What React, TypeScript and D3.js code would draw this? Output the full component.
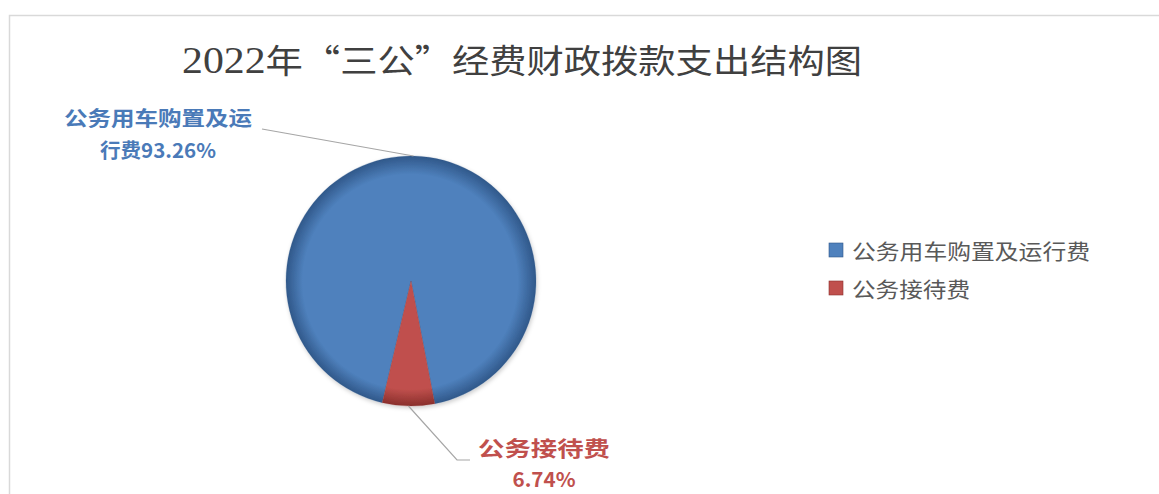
import React from 'react';
import * as d3 from 'd3';

// chart data
const categories = ['公务用车购置及运行费', '公务接待费'];
const shares = [93.26, 6.74];
const sliceColors = ['#4f81bd', '#c0504d'];
const rimColors = ['#30588a', '#8a2f2c'];
const labelColors = ['#4a7ab8', '#c0504d'];
const labelLines = [
  ['公务用车购置及运', '行费93.26%'],
  ['公务接待费', '6.74%'],
];
const titleYear = '2022';
const titleRest = '年“三公”经费财政拨款支出结构图';

const W = 1159;
const H = 494;
const cx = 411;
const cy = 281;
const R = 125;
const start = (193.3 / 180) * Math.PI;

export default function App() {
  const arcs = d3.pie<number>().sort(null).startAngle(start).endAngle(start + 2 * Math.PI)(shares);
  const arc = d3.arc<d3.PieArcDatum<number>>().innerRadius(0).outerRadius(R);
  const outer = d3.arc<d3.PieArcDatum<number>>().innerRadius(R).outerRadius(R);

  // label placement (layout only)
  const labelLayout = [
    { x: 158, ys: [126, 158], widths: [188, 116], elbow: null as null | [number, number], end: [262, 129] },
    { x: 544, ys: [456, 487], widths: [132, 63], elbow: [457, 460] as [number, number], end: [470, 460] },
  ];

  return (
    <svg width={W} height={H} style={{ position: 'absolute', left: 0, top: 0, background: '#fff' }}>
      <defs>
        {sliceColors.map((c, i) => (
          <radialGradient key={i} id={`g${i}`} gradientUnits="userSpaceOnUse" cx={0} cy={0} r={R} fx={-6} fy={6}>
            <stop offset="0%" stopColor={c} />
            <stop offset="86%" stopColor={c} />
            <stop offset="100%" stopColor={rimColors[i]} />
          </radialGradient>
        ))}
        <filter id="sh" x="-20%" y="-20%" width="140%" height="140%">
          <feDropShadow dx="1" dy="2" stdDeviation="2" floodColor="#000" floodOpacity="0.2" />
        </filter>
      </defs>
      <rect x={9.5} y={15.5} width={W} height={H} fill="#fff" stroke="#d9d9d9" strokeWidth={1.5} />
      <text
        x={522}
        y={73}
        textAnchor="middle"
        fontFamily="'Noto Sans CJK SC', serif"
        fontSize={33}
        fill="#404040"
        textLength={680}
        lengthAdjust="spacingAndGlyphs"
      >
        <tspan fontFamily="'Liberation Serif', serif" fontSize={37}>{titleYear}</tspan>
        {titleRest}
      </text>

      <g filter="url(#sh)" transform={`translate(${cx},${cy})`}>
        {arcs.map((a, i) => (
          <path
            key={i}
            d={arc(a) || ''}
            fill={`url(#g${i})`}
            stroke={rimColors[i]}
            strokeOpacity={0.3}
            strokeWidth={0.8}
          />
        ))}
      </g>

      {arcs.map((a, i) => {
        const [ox, oy] = outer.centroid(a);
        const L = labelLayout[i];
        const pts: [number, number][] = [[cx + ox, cy + oy]];
        if (L.elbow) pts.push(L.elbow);
        pts.push(L.end as [number, number]);
        return (
          <g key={i}>
            <path d={d3.line()(pts) || ''} fill="none" stroke="#a6a6a6" strokeWidth={1.2} />
            {labelLines[i].map((t, j) => (
              <text
                key={j}
                x={L.x}
                y={L.ys[j]}
                textAnchor="middle"
                fontFamily="'Noto Sans CJK SC', 'DejaVu Sans', sans-serif"
                fontWeight="bold"
                fontSize={i === 1 && j === 0 ? 21 : 20}
                fill={labelColors[i]}
                textLength={L.widths[j]}
                lengthAdjust="spacingAndGlyphs"
              >
                {t}
              </text>
            ))}
          </g>
        );
      })}

      {categories.map((c, i) => (
        <g key={c} transform={`translate(829,${243 + i * 38})`}>
          <rect width={14} height={14} fill={sliceColors[i]} stroke={rimColors[i]} strokeWidth={0.6} />
          <text
            x={23}
            y={16}
            fontFamily="'Noto Sans CJK SC', sans-serif"
            fontSize={21}
            fill="#595959"
            textLength={i === 0 ? 238 : 118}
            lengthAdjust="spacingAndGlyphs"
          >
            {c}
          </text>
        </g>
      ))}
    </svg>
  );
}
